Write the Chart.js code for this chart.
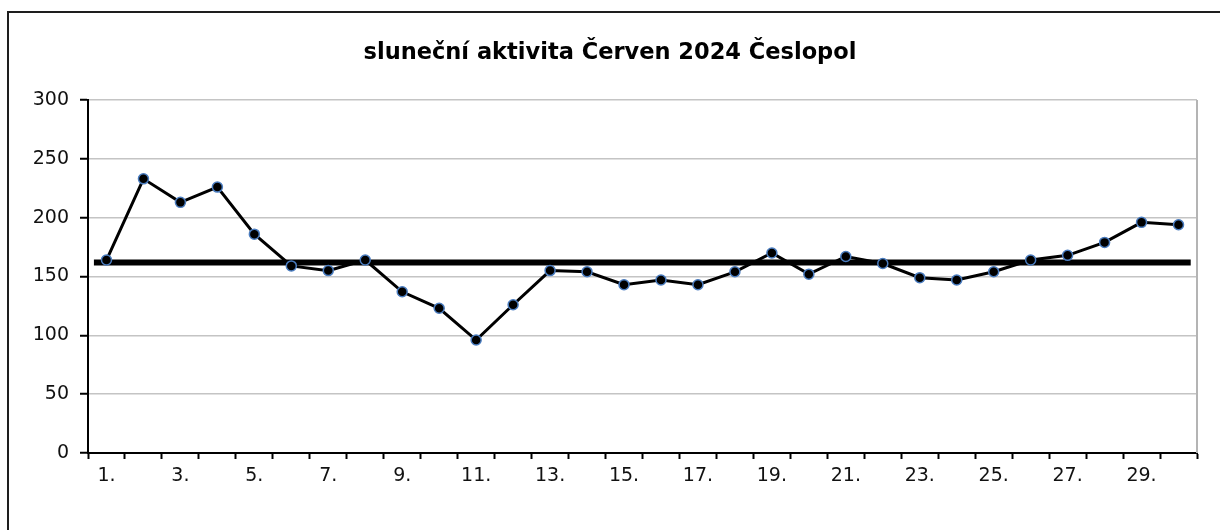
<!DOCTYPE html>
<html>
<head>
<meta charset="utf-8">
<title>sluneční aktivita</title>
<script src="https://cdn.jsdelivr.net/npm/chart.js@4.4.1/dist/chart.umd.min.js"></script>
<style>
  html, body { margin: 0; padding: 0; background: #fff; overflow: hidden; }
  .frame {
    position: absolute; left: 7px; top: 11px;
    width: 1300px; height: 600px;
    border-left: 2px solid #1e1e1e; border-top: 2px solid #1e1e1e;
  }
  #chart { position: absolute; left: 0; top: 0; }
</style>
</head>
<body>
<div class="frame"></div>
<canvas id="chart" width="1220" height="530"></canvas>
<script>
// den v měsíci (popisky osy X)
const days = ['1.', '2.', '3.', '4.', '5.', '6.', '7.', '8.', '9.', '10.',
  '11.', '12.', '13.', '14.', '15.', '16.', '17.', '18.', '19.', '20.',
  '21.', '22.', '23.', '24.', '25.', '26.', '27.', '28.', '29.', '30.'];

// denní hodnoty
const activity = [164, 233, 213, 226, 186, 159, 155, 164, 137, 123,
  96, 126, 155, 154, 143, 147, 143, 154, 170, 152,
  167, 161, 149, 147, 154, 164, 168, 179, 196, 194];

// průměrná čára (hodnota a rozsah ve dnech)
const averageValue = 162;
const averageSpan = [0.66, 30.33];

const yTicks = [0, 50, 100, 150, 200, 250, 300];

const FONT = '"DejaVu Sans", Arial, sans-serif';

const plotFrame = {
  id: 'plotFrame',
  beforeDatasetsDraw(chart) {
    const { ctx, chartArea } = chart;
    ctx.save();
    ctx.strokeStyle = '#b4b4b4';
    ctx.lineWidth = 2;
    ctx.beginPath();
    ctx.moveTo(chartArea.right, chartArea.top);
    ctx.lineTo(chartArea.right, chartArea.bottom);
    ctx.stroke();
    ctx.restore();
  }
};

new Chart(document.getElementById('chart'), {
  type: 'line',
  data: {
    labels: days,
    datasets: [{
      label: 'aktivita',
      data: activity,
      xAxisID: 'x',
      borderColor: '#000',
      borderWidth: 3,
      pointRadius: 5,
      pointBackgroundColor: '#000',
      pointBorderColor: '#4a7cbf',
      pointBorderWidth: 1.5,
      tension: 0
    }, {
      label: 'průměr',
      data: averageSpan.map((d) => ({ x: d, y: averageValue })),
      xAxisID: 'xa',
      borderColor: '#000',
      borderWidth: 6,
      pointRadius: 0,
      borderCapStyle: 'butt'
    }]
  },
  options: {
    responsive: false,
    animation: false,
    events: [],
    layout: { padding: 0 },
    plugins: {
      legend: { display: false },
      tooltip: { enabled: false },
      title: {
        display: true,
        text: 'sluneční aktivita Červen 2024 Česlopol',
        color: '#000',
        font: { family: FONT, size: 22.5, weight: 'bold', lineHeight: 1.2 },
        padding: { top: 40, bottom: 33 }
      }
    },
    scales: {
      x: {
        type: 'category',
        offset: true,
        grid: {
          offset: true,
          drawOnChartArea: false,
          drawTicks: true,
          tickLength: 6,
          tickColor: '#000',
          tickWidth: 2
        },
        border: { color: '#000', width: 2 },
        ticks: {
          autoSkip: false,
          maxRotation: 0,
          padding: 6,
          color: '#111',
          font: { family: FONT, size: 19 },
          callback: (v, i) => (i % 2 === 0 ? days[i] : '')
        },
        afterFit: (scale) => { scale.height = 77; }
      },
      xa: {
        type: 'linear',
        display: false,
        min: 0.5,
        max: 30.5
      },
      y: {
        min: 0,
        max: 300,
        afterBuildTicks: (scale) => { scale.ticks = yTicks.map((v) => ({ value: v })); },
        grid: {
          color: '#c4c4c4',
          lineWidth: 1.5,
          tickColor: '#000',
          tickLength: 8,
          tickWidth: 2
        },
        border: { color: '#000', width: 2 },
        ticks: {
          padding: 11,
          color: '#111',
          font: { family: FONT, size: 19 }
        },
        afterFit: (scale) => { scale.width = 88; }
      },
      // prázdná pravá osa jen kvůli okraji vpravo
      yr: {
        position: 'right',
        min: 0,
        max: 300,
        grid: { display: false },
        border: { display: false },
        ticks: { display: false },
        afterFit: (scale) => { scale.width = 23; }
      }
    }
  },
  plugins: [plotFrame]
});
</script>
</body>
</html>
